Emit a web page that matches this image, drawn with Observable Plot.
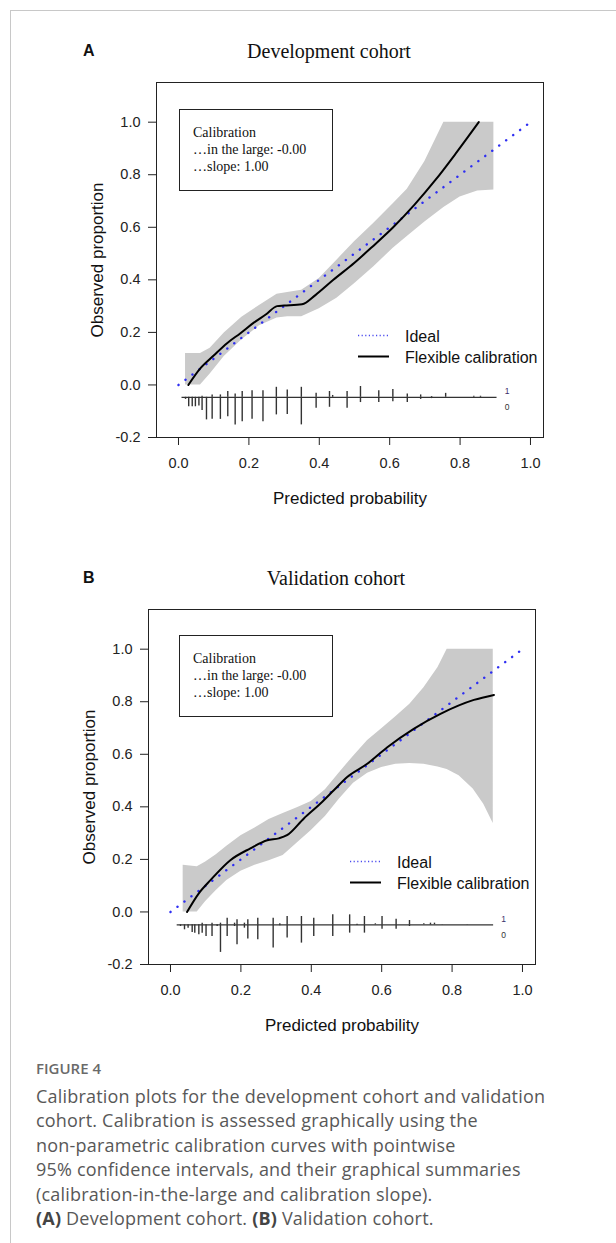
<!DOCTYPE html>
<html><head><meta charset="utf-8">
<script src="https://cdn.jsdelivr.net/npm/d3@7"></script>
<script src="https://cdn.jsdelivr.net/npm/@observablehq/plot@0.6"></script>
<style>
body{margin:0;background:#fff;}
#page{position:relative;width:616px;height:1243px;overflow:hidden;background:#fff;}
.abs{position:absolute;}
.panelLetter{font:bold 16px "Liberation Sans",Arial,sans-serif;color:#111;}
.panelTitle{font:20px "Liberation Serif","Times New Roman",serif;color:#111;white-space:nowrap;transform:translateX(-50%);}
.statbox{box-sizing:border-box;width:154px;height:82px;border:1px solid #222;background:#fff;font:14px/17px "Liberation Serif","Times New Roman",serif;color:#111;padding:14px 0 0 13px;white-space:nowrap;}
.legend{font:16px/21px "Liberation Sans",Arial,sans-serif;color:#111;white-space:nowrap;}
.legend .row{position:relative;height:21px;padding-left:47px;}
.legend svg{position:absolute;left:0;top:0;}
#border{position:absolute;left:10px;top:10px;right:-2px;bottom:-2px;border-top:1px solid #c8c8c8;border-left:1px solid #c8c8c8;pointer-events:none;}
#figlabel{left:36px;top:1058px;font:600 15px/20px "Open Sans",sans-serif;color:#6a6a6a;}
#caption{left:36px;top:1084px;font:18px/24.4px "Open Sans",sans-serif;letter-spacing:0.2px;color:#585858;white-space:nowrap;}
#caption b{font-weight:700;color:#444;}
#page svg g[aria-label$="tick label"] text{font-size:14.5px !important;}
</style></head>
<body><div id="page">
<div id="plotA" class="abs" style="left:0;top:0;"></div>
<div id="plotB" class="abs" style="left:0;top:527px;"></div>

<div class="abs panelLetter" style="left:83px;top:42px;">A</div>
<div class="abs panelTitle" style="left:329px;top:40px;">Development cohort</div>
<div class="abs panelLetter" style="left:83px;top:569px;">B</div>
<div class="abs panelTitle" style="left:336px;top:567px;">Validation cohort</div>

<div class="abs statbox" style="left:179px;top:109px;">Calibration<br>…in the large: -0.00<br>…slope: 1.00</div>
<div class="abs statbox" style="left:179px;top:635px;">Calibration<br>…in the large: -0.00<br>…slope: 1.00</div>

<div class="abs legend" style="left:358px;top:326px;">
  <div class="row"><svg width="32" height="21"><line x1="0" x2="31" y1="9.5" y2="9.5" stroke="#4a4aee" stroke-width="1.6" stroke-dasharray="1.2 2.4"/></svg>Ideal</div>
  <div class="row"><svg width="32" height="21"><line x1="0" x2="31" y1="9.5" y2="9.5" stroke="#000" stroke-width="2"/></svg>Flexible calibration</div>
</div>
<div class="abs legend" style="left:350px;top:852px;">
  <div class="row"><svg width="32" height="21"><line x1="0" x2="31" y1="9.5" y2="9.5" stroke="#4a4aee" stroke-width="1.6" stroke-dasharray="1.2 2.4"/></svg>Ideal</div>
  <div class="row"><svg width="32" height="21"><line x1="0" x2="31" y1="9.5" y2="9.5" stroke="#000" stroke-width="2"/></svg>Flexible calibration</div>
</div>

<div id="figlabel" class="abs">FIGURE 4</div>
<div id="caption" class="abs">Calibration plots for the development cohort and validation<br>cohort. Calibration is assessed graphically using the<br>non-parametric calibration curves with pointwise<br>95% confidence intervals, and their graphical summaries<br>(calibration-in-the-large and calibration slope).<br><b>(A)</b> Development cohort. <b>(B)</b> Validation cohort.</div>
<div id="border"></div>
</div>
<script>
// ---------- shared axes ----------
const xTicks = [0, 0.2, 0.4, 0.6, 0.8, 1.0];
const yTicks = [-0.2, 0, 0.2, 0.4, 0.6, 0.8, 1.0];
const idealX = [0, 1];

// ---------- Panel A: development cohort ----------
const curveXA = [0.028, 0.0625, 0.10, 0.138, 0.176, 0.214, 0.25, 0.28, 0.30, 0.351, 0.389, 0.44, 0.50, 0.55, 0.61, 0.67, 0.73, 0.79, 0.853];
const curveYA = [0.0, 0.064, 0.112, 0.159, 0.197, 0.237, 0.27, 0.30, 0.302, 0.307, 0.342, 0.40, 0.465, 0.525, 0.60, 0.685, 0.78, 0.885, 1.0];
const bandXA  = [0.02, 0.04, 0.0625, 0.09, 0.13, 0.18, 0.23, 0.28, 0.31, 0.35, 0.40, 0.45, 0.50, 0.555, 0.61, 0.65, 0.70, 0.754, 0.80, 0.85, 0.896];
const bandHiA = [0.12, 0.12, 0.12, 0.14, 0.198, 0.258, 0.302, 0.345, 0.352, 0.36, 0.405, 0.475, 0.545, 0.615, 0.69, 0.745, 0.85, 1.0, 1.0, 1.0, 1.0];
const bandLoA = [0, 0, 0, 0.042, 0.108, 0.172, 0.225, 0.255, 0.26, 0.26, 0.29, 0.33, 0.385, 0.45, 0.52, 0.565, 0.62, 0.675, 0.715, 0.738, 0.742];
const spikeXA    = [0.020, 0.029, 0.039, 0.048, 0.058, 0.067, 0.0795, 0.0956, 0.119, 0.140, 0.161, 0.181, 0.209, 0.240, 0.278, 0.309, 0.349, 0.391, 0.429, 0.438, 0.479, 0.517, 0.569, 0.609, 0.650, 0.688, 0.719, 0.759, 0.839, 0.858];
const spikeUpA   = [0, 0, 0, 0, 0, 0.004, 0, 0.009, 0.009, 0.022, 0.013, 0.022, 0.025, 0.025, 0.038, 0.028, 0.038, 0.015, 0.022, 0.007, 0.022, 0.041, 0.025, 0.030, 0.013, 0.009, 0.003, 0.015, 0.004, 0.004];
const spikeDownA = [0.008, 0.036, 0.036, 0.036, 0.033, 0.05, 0.086, 0.084, 0.084, 0.074, 0.105, 0.093, 0.084, 0.093, 0.067, 0.065, 0.105, 0.042, 0.038, 0, 0.042, 0.02, 0.02, 0.017, 0.02, 0.008, 0.005, 0, 0, 0];
const predRangeA = [0.01, 0.905];
const spikeBaseA = -0.047;

// ---------- Panel B: validation cohort ----------
const curveXB = [0.047, 0.0805, 0.1136, 0.170, 0.227, 0.275, 0.308, 0.331, 0.379, 0.426, 0.464, 0.502, 0.559, 0.616, 0.691, 0.767, 0.862, 0.919];
const curveYB = [0.0, 0.071, 0.121, 0.197, 0.242, 0.273, 0.28, 0.292, 0.356, 0.4125, 0.463, 0.5135, 0.564, 0.627, 0.697, 0.754, 0.807, 0.826];
const bandXB  = [0.036, 0.076, 0.10, 0.13, 0.16, 0.20, 0.24, 0.28, 0.32, 0.36, 0.40, 0.44, 0.48, 0.52, 0.56, 0.60, 0.64, 0.68, 0.72, 0.76, 0.786, 0.82, 0.86, 0.89, 0.917];
const bandHiB = [0.178, 0.172, 0.19, 0.218, 0.25, 0.29, 0.319, 0.352, 0.375, 0.397, 0.42, 0.465, 0.53, 0.593, 0.652, 0.697, 0.743, 0.79, 0.853, 0.93, 1.0, 1.0, 1.0, 1.0, 1.0];
const bandLoB = [0, 0, 0.04, 0.082, 0.12, 0.155, 0.178, 0.195, 0.215, 0.262, 0.31, 0.363, 0.43, 0.49, 0.528, 0.55, 0.562, 0.565, 0.562, 0.552, 0.542, 0.518, 0.468, 0.41, 0.337];
const spikeXB    = [0.0284, 0.0398, 0.050, 0.0616, 0.069, 0.0805, 0.090, 0.101, 0.118, 0.1326, 0.142, 0.161, 0.182, 0.189, 0.210, 0.2197, 0.248, 0.2917, 0.3106, 0.3314, 0.372, 0.407, 0.461, 0.509, 0.530, 0.551, 0.582, 0.601, 0.641, 0.679, 0.7197, 0.7386, 0.750, 0.772, 0.843];
const spikeUpB   = [0, 0, 0, 0, 0, 0, 0.0063, 0, 0.0063, 0, 0.0063, 0.0253, 0.0063, 0.019, 0.0063, 0.019, 0.0253, 0.0253, 0.0038, 0.0316, 0.0316, 0.0253, 0.038, 0.038, 0.0025, 0.0316, 0.0038, 0.0316, 0.0215, 0.0165, 0.0038, 0.0063, 0.0063, 0.0013, 0.0013];
const spikeDownB = [0.0063, 0.019, 0.0127, 0.029, 0.0316, 0.038, 0.0316, 0.044, 0.044, 0.0063, 0.105, 0.044, 0.0063, 0.0759, 0.0127, 0.0544, 0.057, 0.0886, 0.0038, 0.0506, 0.0696, 0.044, 0.044, 0.0316, 0.0025, 0.0316, 0, 0.0165, 0.0165, 0.0063, 0, 0.0013, 0, 0, 0];
const predRangeB = [0.019, 0.918];
const spikeBaseB = -0.049;

const FONT = '"Liberation Sans", Arial, sans-serif';

function panel(p) {
  const curve = p.curveX.map((x, i) => ({x, y: p.curveY[i]}));
  const band = p.bandX.map((x, i) => ({x, lo: p.bandLo[i], hi: p.bandHi[i]}));
  const ideal = idealX.map(x => ({x, y: x}));
  const up = p.spikeX.map((x, i) => ({x, y1: p.base, y2: p.base + p.spikeUp[i]})).filter(d => d.y2 > d.y1);
  const down = p.spikeX.map((x, i) => ({x, y1: p.base, y2: p.base - p.spikeDown[i]})).filter(d => d.y2 < d.y1);
  const baseRow = [{x1: p.predRange[0], x2: p.predRange[1], y: p.base}];
  const endRow = [{x: p.predRange[1], y: p.base}];
  const frameW = 387;
  return Plot.plot({
    width: 616, height: 517,
    marginLeft: p.marginLeft, marginRight: 616 - p.marginLeft - frameW,
    marginTop: 82, marginBottom: 80,
    x: {domain: [-0.0625, 1.037]},
    y: {domain: [-0.2, 1.151]},
    style: {background: "transparent", fontFamily: FONT, fontSize: "14.5px", color: "#222", overflow: "visible"},
    marks: [
      Plot.areaY(band, {x: "x", y1: "lo", y2: "hi", fill: "#cacaca", curve: "linear"}),
      Plot.line(ideal, {x: "x", y: "y", stroke: "#2f2ff2", strokeWidth: 2.4, strokeDasharray: "0.1 8.6", strokeLinecap: "round"}),
      Plot.line(curve, {x: "x", y: "y", stroke: "#000", strokeWidth: 2, curve: "monotone-x"}),
      Plot.ruleY(baseRow, {y: "y", x1: "x1", x2: "x2", stroke: "#333", strokeWidth: 1.2}),
      Plot.ruleX(up, {x: "x", y1: "y1", y2: "y2", stroke: "#333", strokeWidth: 1.4}),
      Plot.ruleX(down, {x: "x", y1: "y1", y2: "y2", stroke: "#333", strokeWidth: 1.4}),
      Plot.text(endRow, {x: "x", y: "y", text: () => "1", dx: 10, dy: -6, fontSize: 8.5, fill: "#3a2f6b"}),
      Plot.text(endRow, {x: "x", y: "y", text: () => "0", dx: 10, dy: 10, fontSize: 8.5, fill: "#333"}),
      Plot.frame({stroke: "#222", strokeWidth: 1}),
      Plot.axisX(xTicks, {tickSize: 8, tickPadding: 12, tickFormat: d => d.toFixed(1), label: null, fontSize: 14.5, fill: "#222"}),
      Plot.axisY(yTicks, {tickSize: 8, tickPadding: 8, tickFormat: d => d.toFixed(1), label: null, fontSize: 14.5, fill: "#222"}),
      Plot.text(["Observed proportion"], {frameAnchor: "left", dx: -59, rotate: -90, textAnchor: "middle", lineAnchor: "middle", fontSize: 17, fill: "#111"}),
      Plot.text(["Predicted probability"], {frameAnchor: "bottom", dy: 61, textAnchor: "middle", lineAnchor: "middle", fontSize: 17, fill: "#111"})
    ]
  });
}

document.getElementById("plotA").appendChild(panel({
  curveX: curveXA, curveY: curveYA, bandX: bandXA, bandLo: bandLoA, bandHi: bandHiA,
  spikeX: spikeXA, spikeUp: spikeUpA, spikeDown: spikeDownA, predRange: predRangeA, base: spikeBaseA,
  marginLeft: 156
}));
document.getElementById("plotB").appendChild(panel({
  curveX: curveXB, curveY: curveYB, bandX: bandXB, bandLo: bandLoB, bandHi: bandHiB,
  spikeX: spikeXB, spikeUp: spikeUpB, spikeDown: spikeDownB, predRange: predRangeB, base: spikeBaseB,
  marginLeft: 148
}));
</script>
</body></html>
